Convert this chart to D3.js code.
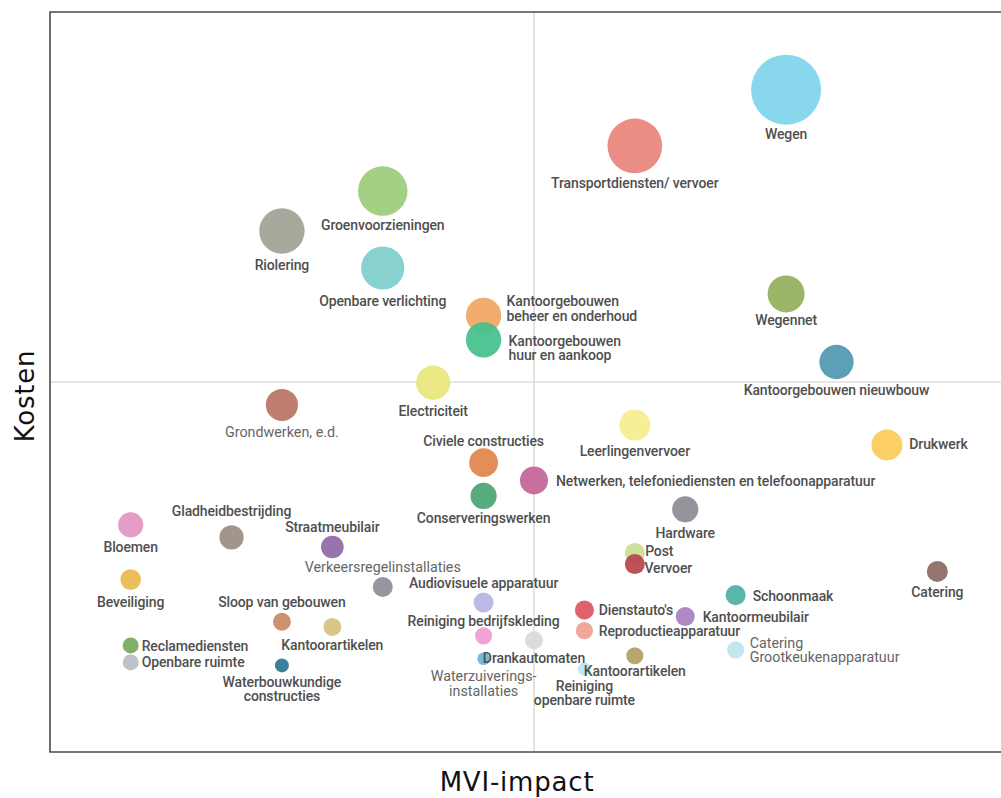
<!DOCTYPE html>
<html>
<head>
<meta charset="utf-8">
<script src="https://cdn.jsdelivr.net/npm/d3@7/dist/d3.min.js"></script>
<style>
  html, body { margin: 0; padding: 0; background: #fff; }
  svg { display: block; }
</style>
</head>
<body>
<svg id="chart" width="1001" height="798"></svg>
<script>
// ---------------- DATA ----------------
const categories = [
  "Wegen", "Transportdiensten/ vervoer", "Groenvoorzieningen", "Riolering", "Openbare verlichting",
  "Wegennet", "Kantoorgebouwen\nbeheer en onderhoud", "Kantoorgebouwen\nhuur en aankoop", "Kantoorgebouwen nieuwbouw",
  "Electriciteit", "Grondwerken, e.d.", "Leerlingenvervoer", "Drukwerk", "Civiele constructies",
  "Netwerken, telefoniediensten en telefoonapparatuur", "Conserveringswerken", "Hardware", "Bloemen",
  "Gladheidbestrijding", "Straatmeubilair", "Post", "Vervoer", "Catering", "Beveiliging",
  "Verkeersregelinstallaties", "Schoonmaak", "Audiovisuele apparatuur", "Dienstauto's", "Kantoormeubilair",
  "Sloop van gebouwen", "Kantoorartikelen", "Reproductieapparatuur", "Reiniging bedrijfskleding",
  "Drankautomaten", "Reclamediensten", "Catering\nGrootkeukenapparatuur", "Kantoorartikelen",
  "Waterzuiverings-\ninstallaties", "Openbare ruimte", "Waterbouwkundige\nconstructies", "Reiniging\nopenbare ruimte"
];
// MVI-impact score (x)
const mviImpact = [
  4.25, 3.5, 2.25, 1.75, 2.25,
  4.25, 2.75, 2.75, 4.5,
  2.5, 1.75, 3.5, 4.75, 2.75,
  3.0, 2.75, 3.75, 1.0,
  1.5, 2.0, 3.5, 3.5, 5.0, 1.0,
  2.25, 4.0, 2.75, 3.25, 3.75,
  1.75, 2.0, 3.25, 2.75,
  3.0, 1.0, 4.0, 3.5,
  2.75, 1.0, 1.75, 3.25
];
// Kosten index (y)
const kosten = [
  8.95, 8.19, 7.58, 7.04, 6.54,
  6.19, 5.90, 5.57, 5.27,
  4.99, 4.69, 4.42, 4.15, 3.91,
  3.67, 3.46, 3.28, 3.07,
  2.90, 2.77, 2.69, 2.54, 2.44, 2.33,
  2.23, 2.12, 2.02, 1.92, 1.83,
  1.76, 1.69, 1.64, 1.57,
  1.51, 1.44, 1.38, 1.30,
  1.26, 1.21, 1.17, 1.12
];
// Relative volume (bubble size)
const volume = [
  100, 61, 50, 42, 38,
  28, 25.5, 25.5, 24,
  24, 21, 19.6, 19.6, 17,
  16, 14, 14, 13,
  12, 10.5, 8.2, 8.2, 9, 8.7,
  8.2, 8.2, 8.2, 7.4, 7.4,
  6.6, 6.6, 6, 6,
  6.6, 5.2, 6, 6,
  3.2, 5.2, 4, 3.5
];
const colors = [
  "#80d4ec", "#e8847b", "#9ccc78", "#9ea495", "#7ecfcc",
  "#93b05c", "#f0a663", "#46c08c", "#5098b0",
  "#e8e67c", "#b97364", "#f5ee8e", "#fccb5a", "#e0874a",
  "#c46497", "#4aa572", "#8c8c94", "#e395c2",
  "#9b8e83", "#8f6aa6", "#c9e090", "#b8454f", "#8b6b62", "#e9b94f",
  "#8d8f97", "#50b0a0", "#b4b6e2", "#dc5661", "#a880c0",
  "#c98a67", "#d7c27d", "#f0a095", "#f29bd5",
  "#d9d9d9", "#78a85f", "#bfe4ec", "#b09f66",
  "#6cb5d8", "#b9bcc1", "#2e7697", "#b8e9ee"
];
const xTitle = "MVI-impact";
const yTitle = "Kosten";

// ---------------- LABEL LAYOUT (annotation placement) ----------------
// [anchor, dx, dy of first line centre, light?]
const labelLayout = [
  ["middle", 0, 44, 0], ["middle", 0, 37, 0], ["middle", 0, 34, 0], ["middle", 0, 34, 0], ["middle", 0, 32.5, 0],
  ["middle", 0, 25.6, 0], ["start", 23, -14, 0], ["start", 25, 0.7, 0], ["middle", 0, 27.7, 0],
  ["middle", 0, 28, 0], ["middle", 0, 26.7, 1], ["middle", 0, 25.7, 0], ["start", 22.4, -1, 0], ["middle", 0, -21.6, 0],
  ["start", 22, 0.4, 0], ["middle", 0, 22, 0], ["middle", 0, 23.4, 0], ["middle", 0, 22.3, 0],
  ["middle", 0, -26.7, 0], ["middle", 0, -20.3, 0], ["start", 10.3, -1.6, 0], ["start", 9.6, 4.3, 0], ["middle", 0, 20.6, 0], ["middle", 0, 22.4, 0],
  ["middle", 0, -20.6, 1], ["start", 17, 0.7, 0], ["middle", 0, -20, 0], ["start", 14.3, 0.3, 0], ["start", 17.4, 0.3, 0],
  ["middle", 0, -20, 0], ["middle", 0, 18, 0], ["start", 14.3, 0, 0], ["middle", 0, -15, 0],
  ["middle", 0, 17.3, 0], ["start", 11, 0.4, 0], ["start", 14, -7, 1], ["middle", 0, 15.3, 0],
  ["middle", 0, 17.3, 1], ["start", 11, -0.4, 0], ["middle", 0, 16.4, 0], ["middle", 0, 16.4, 0]
];

// ---------------- CHART ----------------
const svg = d3.select("#chart");
const plot = { left: 50, top: 12, right: 1018, bottom: 752 };

const x = d3.scaleLinear().domain([0.6, 5.4]).range([plot.left, plot.right]);
const y = d3.scaleLinear().domain([0, 10]).range([plot.bottom, plot.top]);
const r = d3.scaleSqrt().domain([0, 100]).range([0, 35]);

const data = categories.map((c, i) => ({
  name: c, x: mviImpact[i], y: kosten[i], v: volume[i], color: colors[i], layout: labelLayout[i]
}));

// quadrant lines
svg.append("line")
  .attr("x1", x(3)).attr("x2", x(3))
  .attr("y1", plot.top).attr("y2", plot.bottom)
  .attr("stroke", "#d0d0d0").attr("stroke-width", 1.2);
svg.append("line")
  .attr("x1", plot.left).attr("x2", 1001)
  .attr("y1", y(5)).attr("y2", y(5))
  .attr("stroke", "#d0d0d0").attr("stroke-width", 1.2);

// frame (top, left, bottom)
svg.append("path")
  .attr("d", `M1001,${plot.top} H${plot.left} V${plot.bottom} H1001`)
  .attr("fill", "none").attr("stroke", "#4a4a4a").attr("stroke-width", 1.6);

// bubbles
svg.append("g").selectAll("circle")
  .data(data).join("circle")
  .attr("cx", d => x(d.x))
  .attr("cy", d => y(d.y))
  .attr("r", d => r(d.v))
  .attr("fill", d => d.color)
  .attr("fill-opacity", 0.93);

// labels
const lg = svg.append("g")
  .attr("font-family", "Roboto, 'Noto Sans', sans-serif");

data.forEach(d => {
  const [anchor, dx, dy, light] = d.layout;
  const lines = d.name.split("\n");
  const t = lg.append("text")
    .attr("text-anchor", anchor)
    .attr("font-size", light ? 14.3 : 14)
    .attr("fill", light ? "#666" : "#4f4f4f")
    .attr("font-weight", light ? 400 : 500)
    .attr("letter-spacing", light ? "0" : "-0.12");
  lines.forEach((ln, k) => {
    t.append("tspan")
      .attr("x", x(d.x) + dx)
      .attr("y", y(d.y) + dy + k * 14.3)
      .attr("dy", "0.36em")
      .text(ln);
  });
});

// axis titles
svg.append("text")
  .attr("x", 517).attr("y", 791)
  .attr("text-anchor", "middle")
  .attr("font-family", "'DejaVu Sans', Verdana, sans-serif")
  .attr("font-size", 26)
  .attr("letter-spacing", "0.8")
  .attr("fill", "#111")
  .text(xTitle);

svg.append("text")
  .attr("transform", "translate(34,396) rotate(-90)")
  .attr("text-anchor", "middle")
  .attr("font-family", "'DejaVu Sans', Verdana, sans-serif")
  .attr("font-size", 26)
  .attr("letter-spacing", "0.8")
  .attr("fill", "#111")
  .text(yTitle);
</script>
</body>
</html>
